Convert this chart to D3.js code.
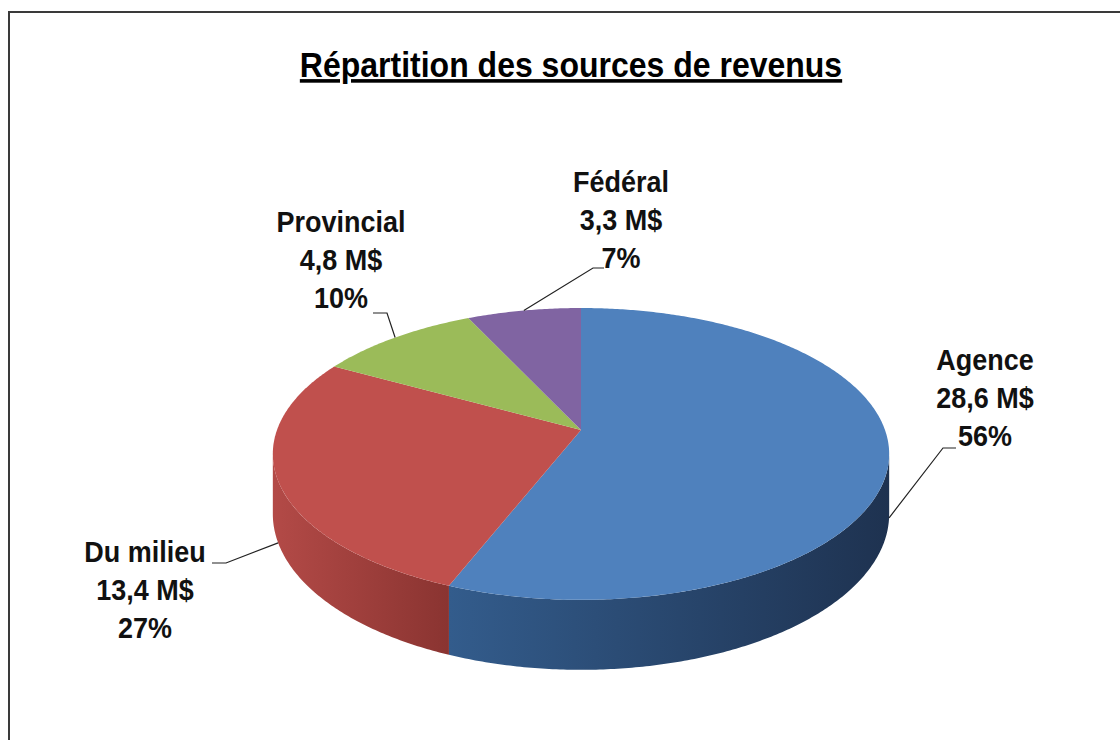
<!DOCTYPE html>
<html>
<head>
<meta charset="utf-8">
<script src="https://cdn.jsdelivr.net/npm/d3@7"></script>
<style>
  body { margin: 0; background: #fff; }
  svg { display: block; font-family: "Liberation Sans", Arial, sans-serif; }
</style>
</head>
<body>
<svg id="svg" width="1120" height="740"></svg>
<script>
// data
let categories = ['Agence', 'Du milieu', 'Provincial', 'Fédéral'];
let amounts = [28.6, 13.4, 4.8, 3.3];
let percents = [56, 27, 10, 7];
let topColors = ['#4f81bd', '#c0504d', '#9bbb59', '#8064a2'];
let sideColors = [['#335c8c', '#1e3250'], ['#b34a47', '#8a3431']];

// label layout: text center and leader elbow
let labelPos = [
  {x: 985, y: 370, elbow: [943, 448], end: [956, 448]},
  {x: 145, y: 562, elbow: [226, 563], end: [212, 563]},
  {x: 341, y: 232, elbow: [387, 313], end: [373, 313]},
  {x: 621, y: 192, elbow: [593, 268], end: [604, 268]}
];

let stretch = 1.12; // text in the picture is a bit tall and narrow

let svg = d3.select('#svg');

// frame
svg.append('rect')
  .attr('x', 9).attr('y', 12)
  .attr('width', 1140).attr('height', 760)
  .attr('fill', 'none')
  .attr('stroke', '#3a3a3a')
  .attr('stroke-width', 2);

// title
svg.append('text')
  .attr('transform', `translate(571,77) scale(1,${stretch})`)
  .attr('text-anchor', 'middle')
  .attr('font-size', 32)
  .attr('font-weight', 'bold')
  .attr('text-decoration', 'underline')
  .attr('fill', '#000')
  .text('Répartition des sources de revenus');

// simple perspective projection of a tilted disc
let cx = 581, cy = 430, A = 304, B = 142, k = 0.164, depth = 58.5;
function proj(a, h) {
  let u = Math.sin(a), v = Math.cos(a), w = 1 + k * v;
  return [cx + A * u / w, cy - B * v / w + (h || 0) / w];
}
function arcPoints(a0, a1, h) {
  let n = Math.max(2, Math.ceil((a1 - a0) / 0.01));
  return d3.range(n + 1).map(i => proj(a0 + (a1 - a0) * i / n, h));
}

let pie = d3.pie().sort(null).value(d => d)(percents);
let line = d3.line();

// visible outer wall runs between the two silhouette angles
let wallStart = Math.PI - Math.acos(k);
let wallEnd = Math.PI + Math.acos(k);

let defs = svg.append('defs');
let gSides = svg.append('g').attr('class', 'sides');
let gTops = svg.append('g').attr('class', 'tops');

pie.forEach((d, i) => {
  let a0 = Math.max(d.startAngle, wallStart);
  let a1 = Math.min(d.endAngle, wallEnd);
  if (a1 > a0) {
    let top = arcPoints(a0, a1, 0);
    let bottom = arcPoints(a0, a1, depth).reverse();
    let xs = top.map(p => p[0]);
    let grad = defs.append('linearGradient')
      .attr('id', 'side' + i)
      .attr('gradientUnits', 'userSpaceOnUse')
      .attr('x1', d3.min(xs)).attr('x2', d3.max(xs))
      .attr('y1', 0).attr('y2', 0);
    grad.append('stop').attr('offset', 0).attr('stop-color', sideColors[i][0]);
    grad.append('stop').attr('offset', 1).attr('stop-color', sideColors[i][1]);
    gSides.append('path')
      .attr('d', line(top.concat(bottom)) + 'Z')
      .attr('fill', `url(#side${i})`);
  }
  gTops.append('path')
    .attr('d', line([[cx, cy]].concat(arcPoints(d.startAngle, d.endAngle, 0))) + 'Z')
    .attr('fill', topColors[i]);
});

// labels and leaders
let fmt = v => d3.format('.1f')(v).replace('.', ',') + ' M$';
let gLabels = svg.append('g').attr('class', 'labels');
pie.forEach((d, i) => {
  let mid = (d.startAngle + d.endAngle) / 2;
  let onWall = mid > wallStart && mid < wallEnd;
  let start = proj(mid, onWall ? depth : 0);
  let pos = labelPos[i];
  gLabels.append('path')
    .attr('d', line([start, pos.elbow, pos.end]))
    .attr('fill', 'none')
    .attr('stroke', '#222')
    .attr('stroke-width', 1.2);
  [categories[i], fmt(amounts[i]), percents[i] + '%'].forEach((s, j) => {
    gLabels.append('text')
      .attr('transform', `translate(${pos.x},${pos.y + j * 38}) scale(1,${stretch})`)
      .attr('text-anchor', 'middle')
      .attr('font-size', 27)
      .attr('font-weight', 'bold')
      .attr('fill', '#111')
      .text(s);
  });
});
</script>
</body>
</html>
